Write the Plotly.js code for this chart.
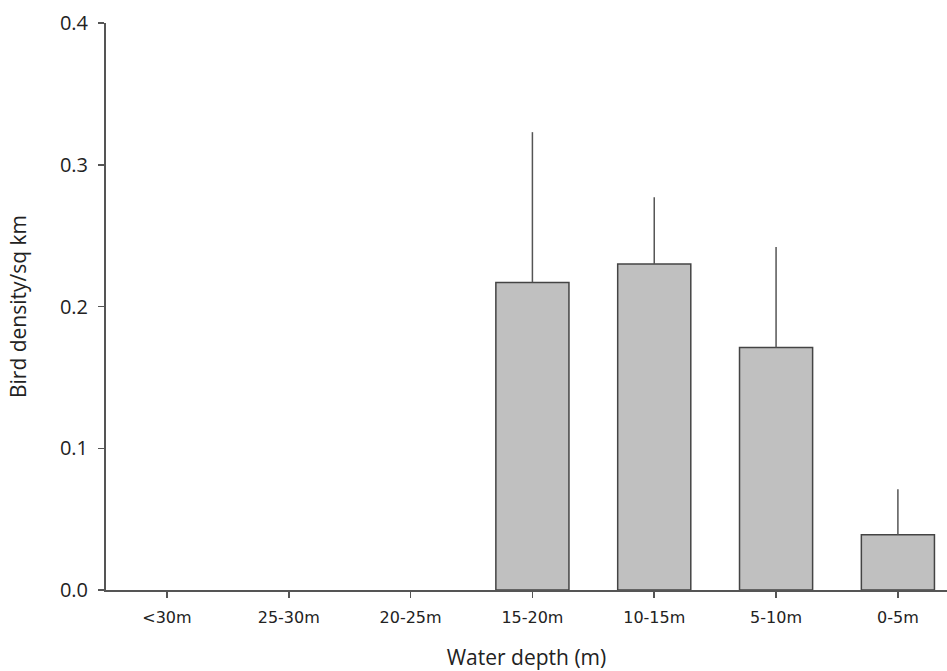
<!DOCTYPE html>
<html>
<head>
<meta charset="utf-8">
<script src="https://cdn.plot.ly/plotly-3.0.1.min.js"></script>
<style>html,body{margin:0;padding:0;background:#fff;overflow:hidden;}</style>
</head>
<body>
<div id="chart" style="width:947px;height:671px;"></div>
<script>
const categories = ["<30m", "25-30m", "20-25m", "15-20m", "10-15m", "5-10m", "0-5m"];
const density = [0, 0, 0, 0.217, 0.230, 0.171, 0.039];
const errorUpper = [0, 0, 0, 0.106, 0.047, 0.071, 0.032];
const yTickValues = [0, 0.1, 0.2, 0.3, 0.4];
const yTickLabels = ["0.0", "0.1", "0.2", "0.3", "0.4"];

const trace = {
  type: "bar",
  x: categories,
  y: density,
  width: 0.6,
  marker: {color: "#c0c0c0", line: {color: "#444444", width: density.map(v => v > 0 ? 1.5 : 0)}},
  error_y: {type: "data", symmetric: false, array: errorUpper, arrayminus: errorUpper.map(() => 0),
            color: "#555555", thickness: 1.5, width: 0},
  hoverinfo: "none"
};

const layout = {
  width: 947, height: 671,
  margin: {l: 106, r: 0, t: 23, b: 81},
  paper_bgcolor: "#ffffff", plot_bgcolor: "#ffffff",
  showlegend: false,
  xaxis: {
    type: "category",
    range: [-0.5, 6.403],
    showline: true, linecolor: "#555555", linewidth: 2,
    ticks: "outside", ticklen: 6, tickcolor: "#555555", tickwidth: 1.5,
    ticklabelstandoff: 6,
    showgrid: false, zeroline: false,
    tickfont: {family: "DejaVu Sans", size: 16, color: "#222222"},
    title: {text: "Water depth (m)", font: {family: "Open Sans", size: 21, color: "#222222"}, standoff: 27},
    automargin: false, fixedrange: true
  },
  yaxis: {
    range: [0, 0.4],
    tickvals: yTickValues, ticktext: yTickLabels,
    showline: true, linecolor: "#555555", linewidth: 2,
    ticks: "outside", ticklen: 6, tickcolor: "#555555", tickwidth: 1.5,
    ticklabelstandoff: 6,
    showgrid: false, zeroline: false,
    tickfont: {family: "Open Sans", size: 20, color: "#222222"},
    title: {text: "Bird density/sq km", font: {family: "Open Sans", size: 21, color: "#222222"}, standoff: 28},
    automargin: false, fixedrange: true
  }
};

Plotly.newPlot("chart", [trace], layout, {displayModeBar: false, staticPlot: true});
</script>
</body>
</html>
